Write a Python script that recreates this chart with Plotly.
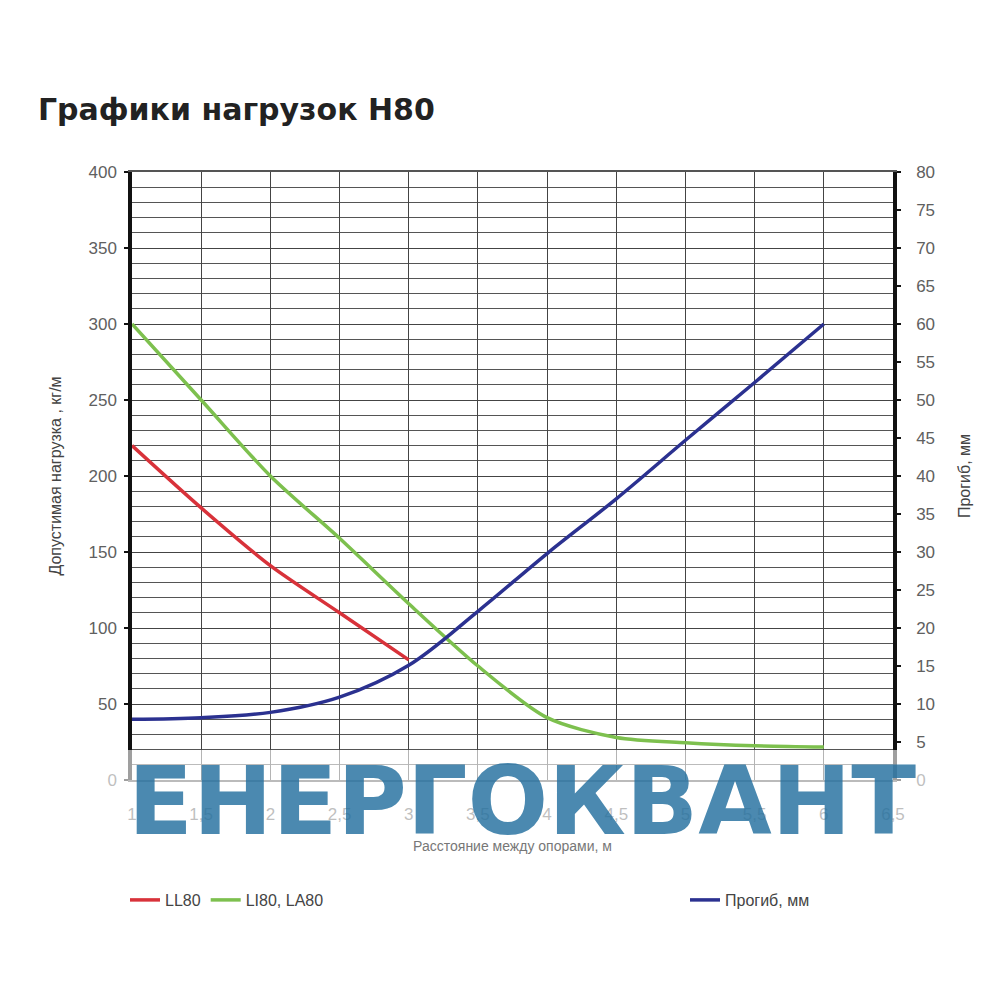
import plotly.graph_objects as go

# Data
span_m = [1, 1.5, 2, 2.5, 3, 3.5, 4, 4.5, 5, 5.5, 6]
ll80 = [220, 179, 141, 110, 79]
li80_la80 = [300, 250, 200, 159, 116, 75, 41, 28, 24.5, 22.5, 21.7]
deflection_mm = [8, 8.2, 8.9, 10.9, 15.1, 22.2, 29.8, 37, 44.7, 52.3, 60]

x_tickvals = [1, 1.5, 2, 2.5, 3, 3.5, 4, 4.5, 5, 5.5, 6, 6.5]
x_ticktext = ["1", "1,5", "2", "2,5", "3", "3,5", "4", "4,5", "5", "5,5", "6", "6,5"]

W, H = 1000, 1000
OFF = 8  # page body margin
L, T = 132 - OFF, 172 - OFF
R = W - (893 - OFF)
B = H - (780 - OFF)
pw, ph = W - L - R, H - T - B


def px_x(p):
    return (p - OFF - L) / pw


def px_y(p):
    return (H - B - (p - OFF)) / ph


fig = go.Figure()
fig.add_trace(go.Scatter(x=span_m[:len(ll80)], y=ll80, name="LL80", mode="lines",
                         line=dict(color="#D8323A", width=3.5, shape="spline", smoothing=0.8),
                         legend="legend"))
fig.add_trace(go.Scatter(x=span_m, y=li80_la80, name="LI80, LA80", mode="lines",
                         line=dict(color="#7DC04E", width=3.5, shape="spline", smoothing=0.8),
                         legend="legend"))
fig.add_trace(go.Scatter(x=span_m, y=deflection_mm, name="Прогиб, мм", mode="lines",
                         line=dict(color="#2B3190", width=3.5, shape="spline", smoothing=1.0),
                         yaxis="y2", legend="legend2"))

tick_font = dict(family="Liberation Sans, Arial, sans-serif", size=17, color="#606060")

fig.update_layout(
    width=W, height=H,
    margin=dict(l=L, r=R, t=T, b=B, autoexpand=False),
    plot_bgcolor="white", paper_bgcolor="white",
    font=dict(family="Liberation Sans, Arial, sans-serif", color="#555555"),
    title=dict(text="<b>Графики нагрузок H80</b>", x=(38 - OFF) / W, xanchor="left",
               xref="container", y=1 - (109 - OFF) / H, yref="container", yanchor="middle",
               font=dict(family="DejaVu Sans, Verdana, sans-serif", size=30, color="#222222")),
    xaxis=dict(range=[1, 6.5], tickvals=x_tickvals, ticktext=x_ticktext,
               showgrid=True, gridcolor="#444444", gridwidth=1,
               showline=True, mirror=True, linecolor="#555555", linewidth=1.5,
               zeroline=False, ticks="", tickfont=tick_font, ticklabelstandoff=18,
               title=dict(text="Расстояние между опорами, м", standoff=18,
                          font=dict(size=14, color="#777777"))),
    yaxis=dict(range=[0, 400], dtick=50, showgrid=True, gridcolor="#444444", gridwidth=1,
               minor=dict(dtick=10, showgrid=True, gridcolor="#555555", gridwidth=1),
               showline=True, linecolor="#111111", linewidth=3.5, zeroline=False,
               ticks="outside", ticklen=4, tickwidth=2, tickcolor="#111111",
               tickfont=tick_font, automargin=False, ticklabelstandoff=4,
               title=dict(text="Допустимая нагрузка , кг/м", standoff=24,
                          font=dict(size=16, color="#444444"))),
    yaxis2=dict(range=[0, 80], dtick=5, overlaying="y", side="right", showgrid=False,
                showline=True, linecolor="#111111", linewidth=3.5, zeroline=False,
                ticks="outside", ticklen=4, tickwidth=2, tickcolor="#111111",
                tickfont=tick_font, automargin=False, ticklabelstandoff=12,
                title=dict(text="Прогиб, мм", standoff=26,
                           font=dict(size=16, color="#444444"))),
    legend=dict(orientation="h", x=px_x(125), y=px_y(900), xanchor="left", yanchor="middle",
                font=dict(family="Liberation Sans Narrow, Liberation Sans, sans-serif",
                          size=16, color="#444444"),
                bgcolor="rgba(0,0,0,0)", itemwidth=30, tracegroupgap=0),
    legend2=dict(orientation="h", x=px_x(685), y=px_y(900), xanchor="left", yanchor="middle",
                 font=dict(family="Liberation Sans Narrow, Liberation Sans, sans-serif",
                           size=16, color="#444444"),
                 bgcolor="rgba(0,0,0,0)", itemwidth=30),
    shapes=[dict(type="rect", xref="paper", yref="paper",
                 x0=px_x(30), x1=px_x(968), y0=px_y(855), y1=px_y(750),
                 fillcolor="rgba(255,255,255,0.6)", line=dict(width=0), layer="above")],
    annotations=[dict(text="<b>ЕНЕРГОКВАНТ</b>", xref="paper", yref="paper",
                      x=px_x(522), y=px_y(801), xanchor="center", yanchor="middle",
                      showarrow=False, opacity=0.82,
                      font=dict(family="DejaVu Sans, Verdana, sans-serif", size=95,
                                color="#24709F"))],
)

fig.write_html("out.html")
